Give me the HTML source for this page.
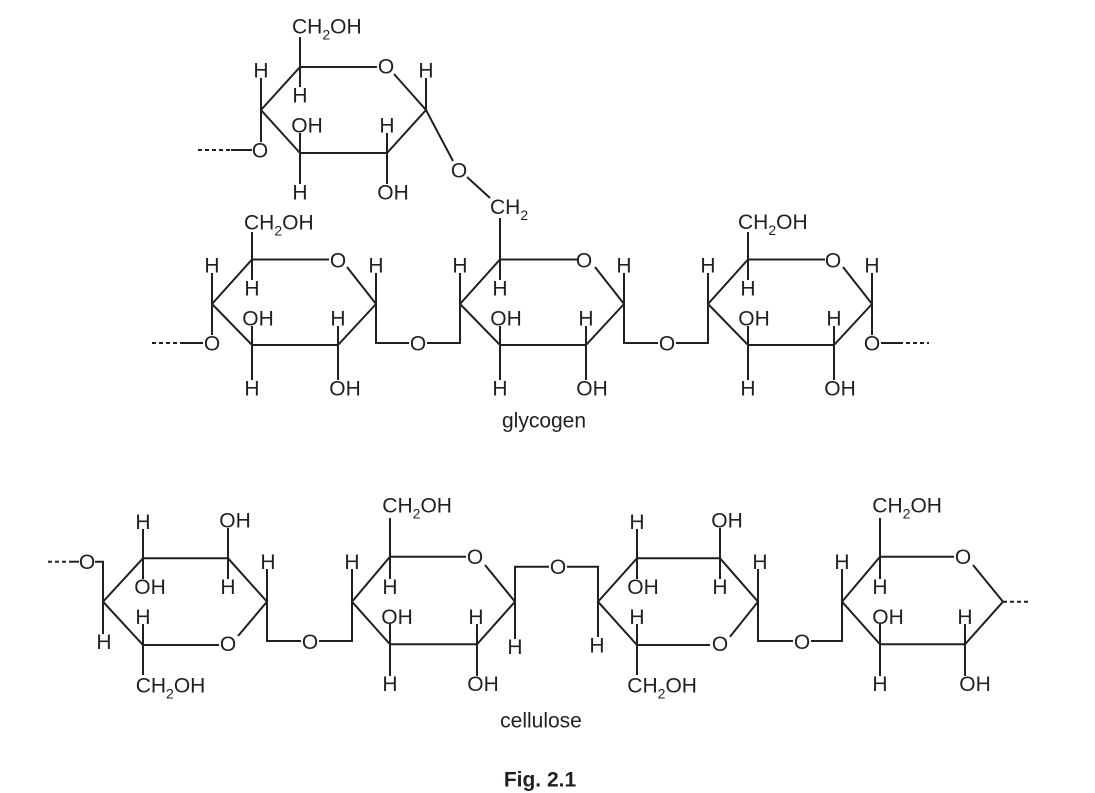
<!DOCTYPE html>
<html><head><meta charset="utf-8"><style>
html,body{margin:0;padding:0;background:#fff;}
svg{display:block;}
text{font-family:"Liberation Sans",Arial,sans-serif;font-size:21px;fill:#231f20;}
.m{text-anchor:middle;}
.b{font-weight:bold;}
</style></head><body>
<svg width="1095" height="793" viewBox="0 0 1095 793" xmlns="http://www.w3.org/2000/svg">
<g fill="none" stroke="#231f20" stroke-width="2" stroke-linejoin="miter">
<!-- top ring -->
<polyline points="377,67 300,67 261,110 300,153 387,153 426,110 394,74"/>
<line x1="261" y1="110" x2="261" y2="78"/>
<line x1="261" y1="110" x2="261" y2="142"/>
<line x1="300" y1="67" x2="300" y2="37"/>
<line x1="300" y1="67" x2="300" y2="87"/>
<line x1="300" y1="153" x2="300" y2="133"/>
<line x1="300" y1="153" x2="300" y2="184"/>
<line x1="387" y1="153" x2="387" y2="133"/>
<line x1="387" y1="153" x2="387" y2="184"/>
<line x1="426" y1="110" x2="426" y2="78"/>
<line x1="426" y1="110" x2="453" y2="161"/>
<line x1="467" y1="177" x2="490" y2="198"/>
<line x1="231" y1="150" x2="252" y2="150"/>
<line x1="198" y1="150" x2="231" y2="150" stroke-dasharray="4 3"/>

<!-- glycogen ring 1 X=212 -->
<polyline points="329,259.5 252,259.5 212,304 252,345 338,345 376,304 347,267"/>
<line x1="212" y1="304" x2="212" y2="273"/>
<line x1="212" y1="304" x2="212" y2="335"/>
<line x1="252" y1="259.5" x2="252" y2="232"/>
<line x1="252" y1="259.5" x2="252" y2="280"/>
<line x1="252" y1="345" x2="252" y2="326"/>
<line x1="252" y1="345" x2="252" y2="380"/>
<line x1="338" y1="345" x2="338" y2="326"/>
<line x1="338" y1="345" x2="338" y2="380"/>
<line x1="376" y1="304" x2="376" y2="273"/>
<line x1="183" y1="343" x2="203" y2="343"/>
<line x1="152" y1="343" x2="183" y2="343" stroke-dasharray="4 3"/>
<polyline points="376,304 376,343 409,343"/>
<polyline points="427,343 460,343 460,304"/>

<!-- glycogen ring 2 X=460 -->
<polyline points="577,259.5 500,259.5 460,304 500,345 586,345 624,304 595,267"/>
<line x1="460" y1="304" x2="460" y2="273"/>
<line x1="500" y1="259.5" x2="500" y2="218"/>
<line x1="500" y1="259.5" x2="500" y2="280"/>
<line x1="500" y1="345" x2="500" y2="326"/>
<line x1="500" y1="345" x2="500" y2="380"/>
<line x1="586" y1="345" x2="586" y2="326"/>
<line x1="586" y1="345" x2="586" y2="380"/>
<line x1="624" y1="304" x2="624" y2="273"/>
<polyline points="624,304 624,343 658,343"/>
<polyline points="676,343 708,343 708,304"/>

<!-- glycogen ring 3 X=708 -->
<polyline points="825,259.5 748,259.5 708,304 748,345 834,345 872,304 843,267"/>
<line x1="708" y1="304" x2="708" y2="273"/>
<line x1="748" y1="259.5" x2="748" y2="232"/>
<line x1="748" y1="259.5" x2="748" y2="280"/>
<line x1="748" y1="345" x2="748" y2="326"/>
<line x1="748" y1="345" x2="748" y2="380"/>
<line x1="834" y1="345" x2="834" y2="326"/>
<line x1="834" y1="345" x2="834" y2="380"/>
<line x1="872" y1="304" x2="872" y2="273"/>
<line x1="872" y1="304" x2="872" y2="335"/>
<line x1="881" y1="343" x2="899" y2="343"/>
<line x1="899" y1="343" x2="929" y2="343" stroke-dasharray="4 3"/>

<!-- cellulose ring A (flipped) L=103 -->
<polyline points="219,645 143,645 103,601.7 143,558.3 228,558.3 267,601.7 238,636"/>
<polyline points="95,561.7 103,561.7 103,601.7 103,634"/>
<line x1="72" y1="561.7" x2="79" y2="561.7"/>
<line x1="48" y1="561.7" x2="72" y2="561.7" stroke-dasharray="4 3"/>
<line x1="143" y1="558.3" x2="143" y2="529"/>
<line x1="143" y1="558.3" x2="143" y2="579"/>
<line x1="228" y1="558.3" x2="228" y2="528"/>
<line x1="228" y1="558.3" x2="228" y2="579"/>
<line x1="267" y1="601.7" x2="267" y2="569"/>
<line x1="143" y1="645" x2="143" y2="624"/>
<line x1="143" y1="645" x2="143" y2="675"/>
<polyline points="267,601.7 267,641 301,641"/>
<polyline points="319,641 352,641 352,601.7"/>

<!-- cellulose ring B X=352 -->
<polyline points="466,556.7 390,556.7 352,601.7 390,644.3 477,644.3 515,601.7 485,565"/>
<line x1="352" y1="601.7" x2="352" y2="569"/>
<line x1="390" y1="556.7" x2="390" y2="518"/>
<line x1="390" y1="556.7" x2="390" y2="579"/>
<line x1="390" y1="644.3" x2="390" y2="624"/>
<line x1="390" y1="644.3" x2="390" y2="676"/>
<line x1="477" y1="644.3" x2="477" y2="624"/>
<line x1="477" y1="644.3" x2="477" y2="676"/>
<line x1="515" y1="601.7" x2="515" y2="639"/>
<polyline points="515,601.7 515,566.7 549,566.7"/>
<polyline points="567,566.7 598,566.7 598,601.7"/>

<!-- cellulose ring C (flipped) L=598 -->
<polyline points="710,645 637,645 598,601.7 637,558.3 720,558.3 758,601.7 730,636.7"/>
<line x1="598" y1="601.7" x2="598" y2="637"/>
<line x1="637" y1="558.3" x2="637" y2="529"/>
<line x1="637" y1="558.3" x2="637" y2="579"/>
<line x1="720" y1="558.3" x2="720" y2="528"/>
<line x1="720" y1="558.3" x2="720" y2="579"/>
<line x1="758" y1="601.7" x2="758" y2="569"/>
<line x1="637" y1="645" x2="637" y2="624"/>
<line x1="637" y1="645" x2="637" y2="675"/>
<polyline points="758,601.7 758,641 793,641"/>
<polyline points="811,641 842,641 842,601.7"/>

<!-- cellulose ring D X=842 -->
<polyline points="954,556.7 880,556.7 842,601.7 880,644.3 965,644.3 1003,601.7 973,565"/>
<line x1="842" y1="601.7" x2="842" y2="569"/>
<line x1="880" y1="556.7" x2="880" y2="518"/>
<line x1="880" y1="556.7" x2="880" y2="579"/>
<line x1="880" y1="644.3" x2="880" y2="624"/>
<line x1="880" y1="644.3" x2="880" y2="676"/>
<line x1="965" y1="644.3" x2="965" y2="624"/>
<line x1="965" y1="644.3" x2="965" y2="676"/>
<line x1="1003" y1="601.7" x2="1030" y2="601.7" stroke-dasharray="4 3"/>
</g>

<!-- top ring labels -->
<text class="m" x="261" y="77.5">H</text>
<text x="292" y="33.7">CH<tspan font-size="14" dy="6">2</tspan><tspan dy="-6">OH</tspan></text>
<text class="m" x="300" y="102.5">H</text>
<text class="m" x="386" y="73.5">O</text>
<text class="m" x="426" y="77.5">H</text>
<text class="m" x="307" y="132.5">OH</text>
<text class="m" x="387" y="132.5">H</text>
<text class="m" x="300" y="199.5">H</text>
<text class="m" x="393" y="199.5">OH</text>
<text class="m" x="260" y="157.5">O</text>
<text class="m" x="459" y="177.5">O</text>
<text x="490" y="214">CH<tspan font-size="14" dy="6">2</tspan></text>

<!-- glycogen ring 1 labels -->
<text class="m" x="212" y="272.5">H</text>
<text x="244" y="229.3">CH<tspan font-size="14" dy="6">2</tspan><tspan dy="-6">OH</tspan></text>
<text class="m" x="252" y="295.5">H</text>
<text class="m" x="338" y="267.5">O</text>
<text class="m" x="376" y="272.5">H</text>
<text class="m" x="258" y="325.5">OH</text>
<text class="m" x="338" y="325.5">H</text>
<text class="m" x="252" y="395.5">H</text>
<text class="m" x="345" y="395.5">OH</text>
<text class="m" x="212" y="350.5">O</text>
<text class="m" x="418" y="350.5">O</text>

<!-- glycogen ring 2 labels -->
<text class="m" x="460" y="272.5">H</text>
<text class="m" x="500" y="295.5">H</text>
<text class="m" x="584" y="267.5">O</text>
<text class="m" x="624" y="272.5">H</text>
<text class="m" x="506" y="325.5">OH</text>
<text class="m" x="586" y="325.5">H</text>
<text class="m" x="500" y="395.5">H</text>
<text class="m" x="592" y="395.5">OH</text>
<text class="m" x="667" y="350.5">O</text>

<!-- glycogen ring 3 labels -->
<text class="m" x="708" y="272.5">H</text>
<text x="738" y="229">CH<tspan font-size="14" dy="6">2</tspan><tspan dy="-6">OH</tspan></text>
<text class="m" x="748" y="295.5">H</text>
<text class="m" x="833" y="267.5">O</text>
<text class="m" x="872" y="272.5">H</text>
<text class="m" x="754" y="325.5">OH</text>
<text class="m" x="834" y="325.5">H</text>
<text class="m" x="748" y="395.5">H</text>
<text class="m" x="840" y="395.5">OH</text>
<text class="m" x="872" y="350.5">O</text>

<text class="m" x="544" y="427.7">glycogen</text>

<!-- cellulose ring A labels -->
<text class="m" x="87" y="569.2">O</text>
<text class="m" x="104" y="649.2">H</text>
<text class="m" x="143" y="529.2">H</text>
<text class="m" x="150" y="594.2">OH</text>
<text class="m" x="235" y="527.5">OH</text>
<text class="m" x="228" y="594.2">H</text>
<text class="m" x="268" y="569.2">H</text>
<text class="m" x="228" y="650.8">O</text>
<text class="m" x="143" y="624.2">H</text>
<text x="135.7" y="692.7">CH<tspan font-size="14" dy="6">2</tspan><tspan dy="-6">OH</tspan></text>
<text class="m" x="310" y="649.2">O</text>

<!-- cellulose ring B labels -->
<text class="m" x="352" y="569.2">H</text>
<text x="382.3" y="512.7">CH<tspan font-size="14" dy="6">2</tspan><tspan dy="-6">OH</tspan></text>
<text class="m" x="390" y="594.2">H</text>
<text class="m" x="475" y="564.2">O</text>
<text class="m" x="397" y="624.2">OH</text>
<text class="m" x="476" y="624.2">H</text>
<text class="m" x="390" y="690.8">H</text>
<text class="m" x="483" y="690.8">OH</text>
<text class="m" x="515" y="654.2">H</text>
<text class="m" x="558" y="574.2">O</text>

<!-- cellulose ring C labels -->
<text class="m" x="597" y="652.5">H</text>
<text class="m" x="637" y="529.2">H</text>
<text class="m" x="643" y="594.2">OH</text>
<text class="m" x="727" y="527.5">OH</text>
<text class="m" x="720" y="594.2">H</text>
<text class="m" x="760" y="569.2">H</text>
<text class="m" x="720" y="650.8">O</text>
<text class="m" x="637" y="624.2">H</text>
<text x="627.3" y="692.5">CH<tspan font-size="14" dy="6">2</tspan><tspan dy="-6">OH</tspan></text>
<text class="m" x="802" y="649.2">O</text>

<!-- cellulose ring D labels -->
<text class="m" x="842" y="569.2">H</text>
<text x="872.3" y="512.7">CH<tspan font-size="14" dy="6">2</tspan><tspan dy="-6">OH</tspan></text>
<text class="m" x="880" y="594.2">H</text>
<text class="m" x="963" y="564.2">O</text>
<text class="m" x="888" y="624.2">OH</text>
<text class="m" x="965" y="624.2">H</text>
<text class="m" x="880" y="690.8">H</text>
<text class="m" x="975" y="690.8">OH</text>

<text class="m" x="541" y="727.3">cellulose</text>
<text class="m b" x="540" y="786.7">Fig. 2.1</text>
</svg>
</body></html>
